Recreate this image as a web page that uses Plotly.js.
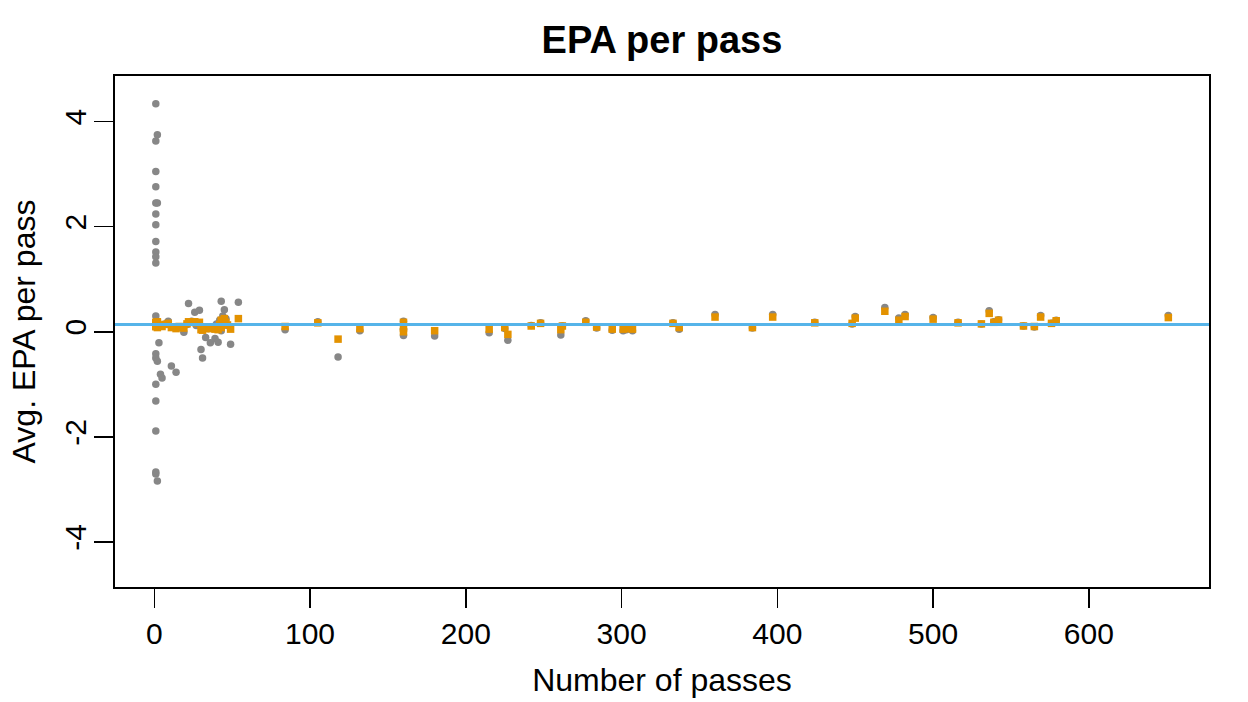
<!DOCTYPE html>
<html>
<head>
<meta charset="utf-8">
<script src="https://cdn.plot.ly/plotly-3.0.1.min.js"></script>
<style>html,body{margin:0;padding:0;background:#fff;}#chart{width:1248px;height:702px;}</style>
</head>
<body>
<div id="chart"></div>
<script>
// Number of passes per player
const passes = [
  1,1,1,1,1,1,1,1,1,1,1,1,1,1,1,1,1,1,1,
  2,2,2,2,
  3,4,5,7,9,11,14,16,19,21,22,24,26,27,29,30,31,33,35,36,38,39,40,41,42,43,43,44,45,46,47,49,54,
  84,105,118,132,160,160,160,180,215,225,227,242,248,261,262,277,284,294,301,303,307,
  333,337,360,384,397,424,448,450,469,478,482,500,516,531,536,539,542,558,565,569,576,579,651
];
// Raw average EPA per pass (gray circles)
const epaRaw = [
  4.34,3.63,3.05,2.76,2.45,2.24,2.04,1.72,1.52,1.43,1.31,0.30,-0.42,-0.50,-1.00,-1.32,-1.89,-2.67,-2.71,
  3.75,2.45,-0.56,-2.84,
  -0.21,-0.81,-0.88,0.15,0.20,-0.65,-0.77,0.08,-0.01,0.14,0.54,0.20,0.37,0.12,0.41,-0.34,-0.50,-0.11,0.06,-0.21,0.10,-0.13,0.15,-0.20,0.22,0.58,0.02,0.30,0.42,0.25,0.12,-0.24,0.56,
  0.04,0.19,-0.48,0.02,0.20,0.05,-0.07,-0.08,-0.02,0.06,-0.16,0.12,0.17,-0.06,0.11,0.21,0.07,0.03,0.02,0.04,0.02,
  0.17,0.05,0.33,0.07,0.33,0.18,0.15,0.29,0.46,0.26,0.33,0.27,0.18,0.15,0.40,0.19,0.23,0.11,0.09,0.31,0.16,0.22,0.31
];
// Shrunk (estimated) EPA per pass (orange squares)
const epaShrunk = [
  0.18,0.17,0.16,0.16,0.15,0.15,0.15,0.15,0.15,0.15,0.15,0.14,0.13,0.13,0.12,0.12,0.11,0.10,0.10,
  0.19,0.17,0.12,0.08,
  0.13,0.11,0.10,0.14,0.16,0.08,0.06,0.10,0.07,0.15,0.19,0.18,0.19,0.17,0.18,0.04,0.03,0.06,0.08,0.06,0.07,0.05,0.08,0.04,0.14,0.22,0.08,0.20,0.25,0.18,0.13,0.05,0.25,
  0.10,0.17,-0.14,0.06,0.18,0.07,0.00,0.02,0.05,0.08,-0.05,0.11,0.16,0.04,0.11,0.18,0.09,0.05,0.05,0.06,0.05,
  0.16,0.08,0.28,0.08,0.28,0.17,0.16,0.26,0.39,0.22,0.29,0.24,0.17,0.15,0.35,0.18,0.22,0.11,0.10,0.28,0.16,0.21,0.27
];
// League average EPA per pass (horizontal reference line)
const leagueAvg = 0.138;
const xTicks = [0,100,200,300,400,500,600];
const yTicks = [-4,-2,0,2,4];

const FONT = 'Liberation Sans, Arial, Helvetica, sans-serif';

const traces = [
  {
    type: 'scatter', mode: 'markers', x: passes, y: epaRaw,
    marker: {symbol: 'circle', size: 7.5, color: '#878787', line: {width: 0}},
    hoverinfo: 'skip', showlegend: false
  },
  {
    type: 'scatter', mode: 'markers', x: passes, y: epaShrunk,
    marker: {symbol: 'square', size: 7.5, color: '#E39200', line: {width: 0}},
    hoverinfo: 'skip', showlegend: false
  }
];

const layout = {
  width: 1248, height: 702,
  paper_bgcolor: '#fff', plot_bgcolor: '#fff',
  margin: {l: 115, r: 39, t: 76, b: 115, pad: 0},
  font: {family: FONT, size: 31, color: '#000'},
  title: {
    text: '<b>EPA per pass</b>',
    font: {family: FONT, size: 38, color: '#000'},
    x: 0.5, xref: 'paper', xanchor: 'center',
    y: 1 - 40/702, yref: 'container', yanchor: 'middle'
  },
  xaxis: {
    range: [-25.2, 677.1], tickmode: 'array', tickvals: xTicks, ticktext: xTicks.map(String),
    ticks: 'outside', ticklen: 19, tickwidth: 1.5, tickcolor: '#000',
    showgrid: false, zeroline: false,
    showline: true, linecolor: '#000', linewidth: 1.8, mirror: true,
    tickfont: {family: FONT, size: 30, color: '#000'},
    title: {text: 'Number of passes', font: {family: FONT, size: 32, color: '#000'}, standoff: 20},
    automargin: false
  },
  yaxis: {
    range: [-4.86, 4.87], tickmode: 'array', tickvals: yTicks, ticktext: yTicks.map(String),
    tickangle: -90, ticklabelstandoff: -4,
    ticks: 'outside', ticklen: 19, tickwidth: 1.5, tickcolor: '#000',
    showgrid: false, zeroline: false,
    showline: true, linecolor: '#000', linewidth: 1.8, mirror: true,
    tickfont: {family: FONT, size: 30, color: '#000'},
    title: {text: 'Avg. EPA per pass', font: {family: FONT, size: 32, color: '#000'}, standoff: 14},
    automargin: false
  },
  shapes: [
    {type: 'line', xref: 'paper', x0: 0, x1: 1, yref: 'y', y0: leagueAvg, y1: leagueAvg,
     line: {color: '#56B4E9', width: 3}, layer: 'above'}
  ]
};

Plotly.newPlot('chart', traces, layout, {staticPlot: true, displayModeBar: false});
</script>
</body>
</html>
